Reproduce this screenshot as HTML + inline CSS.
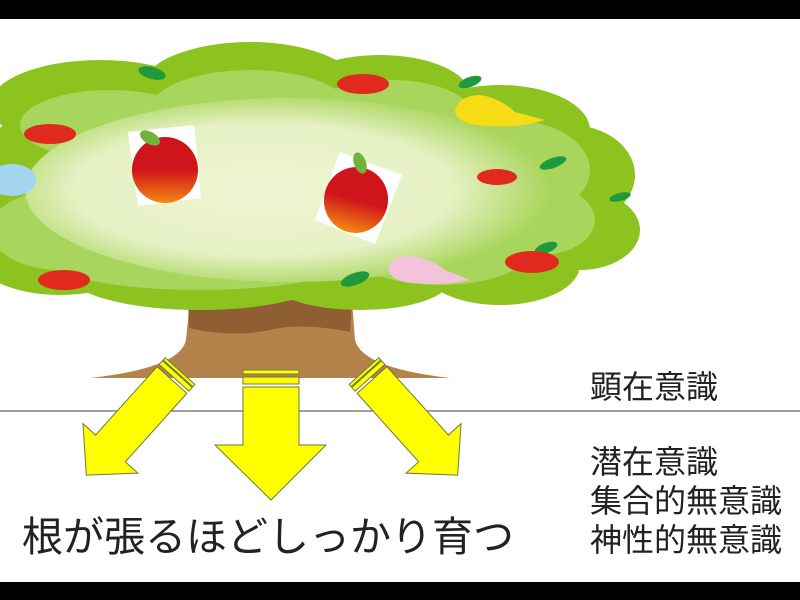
<!DOCTYPE html>
<html><head><meta charset="utf-8"><style>
html,body{margin:0;padding:0;width:800px;height:600px;overflow:hidden;background:#fff}
.t{position:absolute;font-family:"Liberation Sans","Noto Sans CJK JP",sans-serif;color:#222;white-space:nowrap}
</style></head><body>
<svg width="800" height="600" style="position:absolute;left:0;top:0">
<defs>
<radialGradient id="g" cx="0.45" cy="0.5" r="0.55">
<stop offset="0" stop-color="#eef5d2"/><stop offset="0.65" stop-color="#e6f1c4"/><stop offset="1" stop-color="#a6d457"/>
</radialGradient>
<linearGradient id="ap" x1="0" y1="0" x2="0" y2="1"><stop offset="0.5" stop-color="#d0141c"/><stop offset="1" stop-color="#f28a10"/></linearGradient>
</defs>
<rect x="0" y="0" width="800" height="19" fill="#000"/>
<rect x="0" y="582" width="800" height="18" fill="#000"/>
<path d="M190 300 L352 300 L355 340 Q362 368 450 378 L90 378 Q180 368 186 340 Z" fill="#b4834b"/>
<path d="M188 300 L352 300 L350 332 Q300 322 270 330 Q230 338 189 328 Z" fill="#8f5e32"/>
<g fill="#8cc31f">
<ellipse cx="250" cy="90" rx="110" ry="48"/>
<ellipse cx="380" cy="95" rx="90" ry="40"/>
<ellipse cx="100" cy="105" rx="110" ry="45"/>
<ellipse cx="500" cy="130" rx="90" ry="45"/>
<ellipse cx="570" cy="175" rx="65" ry="50"/>
<ellipse cx="580" cy="230" rx="60" ry="40"/>
<ellipse cx="500" cy="265" rx="80" ry="40"/>
<ellipse cx="360" cy="280" rx="90" ry="30"/>
<ellipse cx="200" cy="275" rx="130" ry="35"/>
<ellipse cx="60" cy="250" rx="90" ry="45"/>
<ellipse cx="40" cy="180" rx="60" ry="70"/>
<ellipse cx="300" cy="185" rx="280" ry="100"/>
</g>
<g fill="#a8d55c">
<ellipse cx="250" cy="110" rx="100" ry="40"/>
<ellipse cx="390" cy="112" rx="80" ry="32"/>
<ellipse cx="110" cy="125" rx="90" ry="35"/>
<ellipse cx="510" cy="170" rx="80" ry="50"/>
<ellipse cx="540" cy="220" rx="55" ry="35"/>
<ellipse cx="440" cy="250" rx="90" ry="35"/>
<ellipse cx="200" cy="260" rx="150" ry="30"/>
<ellipse cx="60" cy="230" rx="70" ry="40"/>
</g>
<ellipse cx="290" cy="190" rx="265" ry="92" fill="url(#g)"/>
<g fill="#1e9a3c">
<ellipse cx="152" cy="73" rx="14" ry="6" transform="rotate(15 152 73)"/>
<ellipse cx="470" cy="82" rx="12" ry="5" transform="rotate(-20 470 82)"/>
<ellipse cx="553" cy="163" rx="14" ry="5" transform="rotate(-20 553 163)"/>
<ellipse cx="620" cy="197" rx="11" ry="4" transform="rotate(-15 620 197)"/>
<ellipse cx="355" cy="279" rx="15" ry="6" transform="rotate(-20 355 279)"/>
<ellipse cx="546" cy="248" rx="12" ry="5" transform="rotate(-20 546 248)"/>
</g>
<g fill="#e02a1e">
<ellipse cx="363" cy="84" rx="26" ry="10"/>
<ellipse cx="50" cy="134" rx="26" ry="10"/>
<ellipse cx="497" cy="177" rx="20" ry="8"/>
<ellipse cx="64" cy="280" rx="26" ry="10"/>
<ellipse cx="532" cy="262" rx="27" ry="11"/>
</g>
<path d="M455 110 Q460 95 480 95 Q500 98 515 112 L545 120 Q520 128 490 126 Q455 125 455 110Z" fill="#f5dc14"/>
<path d="M388 268 Q392 255 410 256 Q430 258 445 270 L470 280 Q445 286 415 283 Q390 282 388 268Z" fill="#f3c3dc"/>
<ellipse cx="12" cy="180" rx="24" ry="16" fill="#a3d4f0"/>
<polygon points="128,132 194,125 201,198 138,206" fill="#fff"/>
<ellipse cx="165" cy="170" rx="33" ry="33" fill="url(#ap)"/>
<ellipse cx="150" cy="138" rx="11" ry="6" fill="#6fb33a" transform="rotate(30 150 138)"/>
<polygon points="340,152 402,175 375,244 315,220" fill="#fff"/>
<ellipse cx="356" cy="200" rx="32" ry="33" fill="url(#ap)" transform="rotate(15 356 200)"/>
<ellipse cx="360" cy="163" rx="6" ry="11" fill="#6fb33a" transform="rotate(-20 360 163)"/>
<line x1="0" y1="411" x2="800" y2="411" stroke="#666" stroke-width="1.3"/>
<g fill="#ffff00" stroke="#6a7a40" stroke-width="1">
<rect x="243" y="370" width="56" height="4"/>
<rect x="243" y="377" width="56" height="7"/>
<polygon points="243,387 299,387 299,445 326,445 271,500 215,445 243,445"/>
<g transform="translate(172,380) rotate(42)">
<rect x="-20" y="-12" width="40" height="3"/>
<rect x="-20" y="-8" width="40" height="5"/>
<polygon points="-20,0 20,0 20,92 37,92 0,128 -37,92 -20,92"/>
</g>
<g transform="translate(372,380) rotate(-42)">
<rect x="-20" y="-12" width="40" height="3"/>
<rect x="-20" y="-8" width="40" height="5"/>
<polygon points="-20,0 20,0 20,92 37,92 0,128 -37,92 -20,92"/>
</g>
</g>
</svg>
<div class="t" style="left:22px;top:503px;font-size:41px">根が張るほどしっかり育つ</div>
<div class="t" style="left:590px;top:362px;font-size:32px">顕在意識</div>
<div class="t" style="left:590px;top:443px;font-size:32px;line-height:39px">潜在意識<br>集合的無意識<br>神性的無意識</div>
</body></html>
